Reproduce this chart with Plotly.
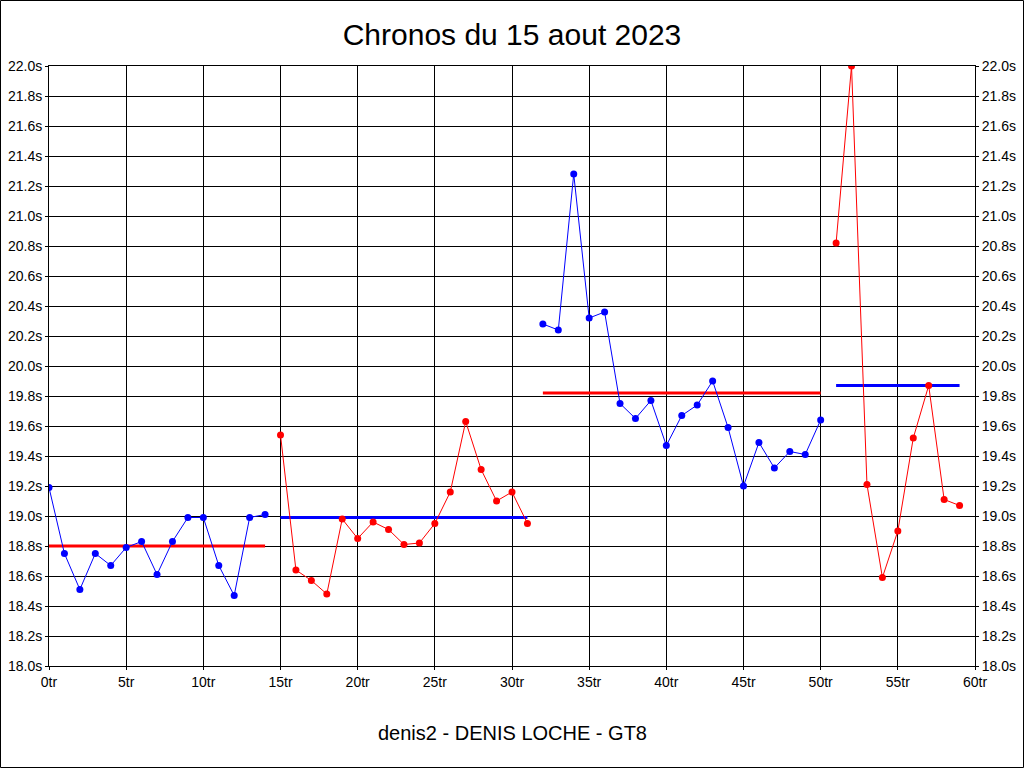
import plotly.graph_objects as go

# --- data ---
seg1_laps = list(range(0, 15))
seg1_times = [19.19, 18.75, 18.51, 18.75, 18.67, 18.79, 18.83, 18.61, 18.83, 18.99,
              18.99, 18.67, 18.47, 18.99, 19.01]
seg2_laps = list(range(15, 32))
seg2_times = [19.54, 18.64, 18.57, 18.48, 18.98, 18.85, 18.96, 18.91, 18.81, 18.82,
              18.95, 19.16, 19.63, 19.31, 19.10, 19.16, 18.95]
seg3_laps = list(range(32, 51))
seg3_times = [20.28, 20.24, 21.28, 20.32, 20.36, 19.75, 19.65, 19.77, 19.47, 19.67,
              19.74, 19.90, 19.59, 19.20, 19.49, 19.32, 19.43, 19.41, 19.64]
seg4_laps = list(range(51, 60))
seg4_times = [20.82, 22.00, 19.21, 18.59, 18.90, 19.52, 19.87, 19.11, 19.07]

# reference (average) lines per segment: start lap, end lap, value
ref_lines = [(0, 14, 18.80), (15, 31, 18.99), (32, 50, 19.82), (51, 59, 19.87)]

BLUE = "#0000FF"
RED = "#FF0000"
seg_colors = [BLUE, RED, BLUE, RED]
ref_colors = [RED, BLUE, RED, BLUE]

y_ticks = [round(18.0 + 0.2 * i, 1) for i in range(21)]
x_ticks = list(range(0, 61, 5))

fig = go.Figure()

for (x0, x1, v), c in zip(ref_lines, ref_colors):
    fig.add_trace(go.Scatter(x=[x0, x1], y=[v, v], mode="lines",
                             line=dict(color=c, width=3), showlegend=False,
                             hoverinfo="skip"))

segments = [(seg1_laps, seg1_times), (seg2_laps, seg2_times),
            (seg3_laps, seg3_times), (seg4_laps, seg4_times)]
for (lx, ty), c in zip(segments, seg_colors):
    fig.add_trace(go.Scatter(x=lx, y=ty, mode="lines+markers",
                             line=dict(color=c, width=1),
                             marker=dict(color=c, size=7),
                             showlegend=False))

# invisible trace for right axis
fig.add_trace(go.Scatter(x=[0], y=[18.0], yaxis="y2", mode="markers",
                         marker=dict(opacity=0), showlegend=False, hoverinfo="skip"))

font_family = "Liberation Sans, Arial, sans-serif"

axis_common = dict(showline=True, linecolor="black", linewidth=1,
                   gridcolor="black", gridwidth=1, zeroline=False,
                   ticks="outside", ticklen=3, tickcolor="black", automargin=False,
                   tickfont=dict(family=font_family, size=14, color="black"))

fig.update_layout(
    width=1024, height=768,
    margin=dict(l=49, r=49, t=66, b=102, autoexpand=False),
    paper_bgcolor="white", plot_bgcolor="white",
    title=dict(text="Chronos du 15 aout 2023", x=0.5, xanchor="center",
               y=1 - 34 / 768, yanchor="middle",
               font=dict(family=font_family, size=30, color="black")),
    xaxis=dict(range=[0, 60], tickvals=x_ticks,
               ticktext=[f"{v}tr" for v in x_ticks], mirror=True, **axis_common),
    yaxis=dict(range=[18.0, 22.0], tickvals=y_ticks,
               ticktext=[f"{v:.1f}s" for v in y_ticks], mirror=True, **axis_common),
    yaxis2=dict(range=[18.0, 22.0], tickvals=y_ticks,
                ticktext=[f"{v:.1f}s" for v in y_ticks], overlaying="y", side="right",
                showgrid=False, showline=True, linecolor="black", zeroline=False,
                ticks="outside", ticklen=3, tickcolor="black", automargin=False,
                tickfont=dict(family=font_family, size=14, color="black")),
    annotations=[dict(text="denis2 - DENIS LOCHE - GT8", xref="paper", yref="paper",
                      x=0.5, y=-(733 - 666) / 600, xanchor="center", yanchor="middle",
                      showarrow=False,
                      font=dict(family=font_family, size=20, color="black"))],
    shapes=[dict(type="rect", xref="paper", yref="paper",
                 x0=-48.5 / 926, x1=1 + 48.5 / 926,
                 y0=-(767.5 - 666) / 600, y1=(666 - 0.5) / 600,
                 line=dict(color="black", width=1), fillcolor="rgba(0,0,0,0)",
                 layer="below")],
)

fig.write_html("out.html", config={"displayModeBar": False})

# remove default page margin so the figure sits at the window origin
with open("out.html", "r", encoding="utf-8") as f:
    html = f.read()
html = html.replace("<head>", "<head><style>html,body{margin:0;padding:0;overflow:hidden;}</style>", 1)
with open("out.html", "w", encoding="utf-8") as f:
    f.write(html)
